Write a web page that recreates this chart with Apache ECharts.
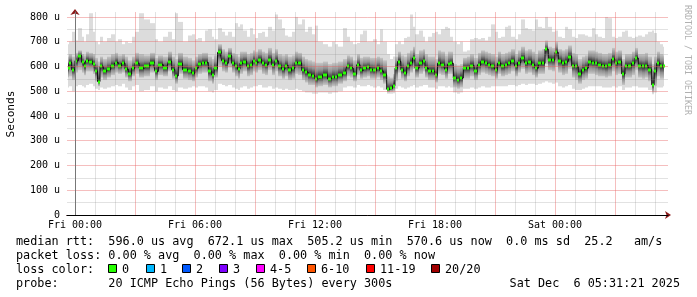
<!DOCTYPE html>
<html><head><meta charset="utf-8">
<script src="https://cdn.jsdelivr.net/npm/echarts@6/dist/echarts.min.js"></script>
<style>html,body{margin:0;padding:0;background:#fff}#c{width:697px;height:297px}</style>
</head><body><div id="c"></div>
<script>
// time of each sample, minutes relative to Fri 00:00
const times = [-20,-15,-5,5,15,25,30,35,50,55,65,70,80,90,100,115,125,135,145,155,165,175,185,200,215,235,245,255,275,285,295,305,315,330,345,355,365,375,385,395,405,415,420,435,445,455,465,475,485,490,500,510,520,530,535,545,555,565,575,585,595,605,615,625,635,645,655,665,675,685,695,705,715,725,735,750,765,775,785,795,810,820,830,840,850,860,870,880,890,900,910,920,930,940,950,955,965,970,985,990,1000,1010,1015,1025,1040,1045,1055,1065,1075,1085,1090,1105,1115,1120,1130,1140,1150,1160,1170,1180,1190,1205,1210,1225,1235,1240,1255,1265,1270,1285,1295,1300,1315,1325,1330,1345,1355,1365,1375,1385,1395,1405,1415,1425,1435,1445,1455,1465,1475,1485,1495,1505,1515,1525,1535,1545,1555,1565,1575,1585,1595,1605,1615,1625,1635,1645,1655,1665,1675,1685,1695,1705,1715,1725,1735,1740,1750,1760,1765];
// median rtt (microseconds)
const median = [593,616,587,623,643,617,600,624,620,609,580,539,600,582,589,603,616,603,613,589,570,593,613,593,600,616,580,607,593,620,587,562,611,587,582,573,593,611,616,616,580,566,593,657,623,613,643,613,600,589,613,620,600,607,623,616,627,613,607,627,607,623,600,589,603,584,593,616,613,584,576,566,562,549,557,566,549,557,556,566,573,600,593,570,607,584,593,596,587,584,593,582,566,508,512,522,593,620,587,573,600,616,634,593,613,623,593,580,580,566,613,607,587,609,613,553,546,553,593,593,603,580,607,620,613,607,600,587,613,600,607,613,623,600,616,634,613,620,607,593,613,613,670,627,627,657,623,613,620,640,603,600,570,587,593,620,616,613,607,603,600,607,630,613,620,570,603,603,613,634,603,600,603,587,526,580,613,600,600];
// outer smoke (slowest / fastest ping)
const smokeMax = [690,700,740,705,755,720,700,730,815,740,700,690,720,700,715,730,700,710,690,700,695,720,740,815,790,775,710,700,720,740,710,815,780,700,725,730,710,715,700,745,750,720,710,755,740,725,740,720,775,760,770,745,720,755,730,715,735,740,720,760,745,810,790,755,725,720,740,800,770,790,740,760,730,765,700,690,680,700,690,680,755,720,700,690,695,730,745,700,700,710,690,750,700,650,630,640,690,700,690,715,720,810,760,730,745,720,700,720,735,740,730,750,760,755,720,700,690,700,660,665,710,715,710,715,705,720,770,740,715,720,760,765,720,710,730,790,755,750,745,790,760,755,800,760,740,745,720,715,760,750,720,715,730,730,725,720,755,730,720,715,800,795,720,715,720,740,745,720,715,720,725,720,730,740,745,735,700,690,680];
const smokeMin = [515,520,500,520,525,520,515,525,530,520,510,505,515,510,515,520,525,520,530,515,505,520,525,500,505,520,500,515,510,520,505,500,515,510,515,520,515,520,520,515,500,495,505,530,525,520,525,515,510,505,515,520,510,515,520,520,525,515,515,520,510,515,510,505,510,505,505,510,505,500,495,495,490,490,495,495,490,495,495,500,515,520,520,515,525,520,520,525,520,515,520,515,505,490,490,492,510,520,515,510,515,520,525,515,520,525,525,515,515,510,520,520,515,520,515,495,490,495,510,510,515,510,515,520,515,515,520,520,520,520,520,525,525,520,525,530,525,530,530,525,530,535,540,535,530,535,520,515,520,525,510,505,505,510,515,520,520,520,520,515,515,515,520,515,520,505,515,515,520,520,515,515,515,505,488,495,515,515,520];
// dense inner smoke
const smokeHi = [640,650,640,655,665,650,645,660,655,650,635,620,640,630,640,650,655,645,650,640,625,640,655,650,645,655,635,645,640,660,640,630,655,640,635,625,640,650,655,655,640,630,645,690,670,660,675,655,650,640,660,660,650,655,665,660,670,660,655,675,655,670,650,645,650,640,645,660,655,640,630,625,620,615,615,620,610,615,615,620,630,645,640,625,650,635,640,640,635,635,640,635,625,560,555,570,640,660,645,640,655,665,680,650,665,670,650,640,640,630,665,660,645,660,660,610,605,610,635,640,650,635,655,665,660,655,650,640,660,650,655,660,670,650,665,680,665,670,660,650,665,670,705,680,675,700,670,665,670,685,655,650,630,640,645,665,665,660,655,650,650,655,675,660,665,630,650,650,660,675,650,650,655,640,610,640,660,650,645];
const smokeLo = [555,560,545,575,585,575,565,580,580,570,540,520,555,545,555,565,575,570,575,555,540,560,570,555,560,575,545,565,560,580,550,530,570,550,545,540,555,570,575,575,540,530,555,600,580,575,595,575,560,550,570,580,560,565,580,575,585,570,565,585,565,580,560,550,560,545,550,570,565,545,535,525,525,515,520,525,515,520,520,530,540,560,555,540,565,550,555,560,550,550,555,545,530,495,498,500,540,575,550,540,560,575,590,555,570,580,555,545,545,535,570,565,550,570,570,515,510,515,550,550,560,545,565,575,570,565,560,550,570,560,565,570,580,560,575,590,570,575,565,555,570,570,610,585,580,600,575,565,570,590,555,545,530,545,550,570,570,565,560,560,555,560,580,565,570,525,555,555,565,585,555,550,555,540,495,520,560,550,550];

// axis tick labels
const xTickValues = [0, 360, 720, 1080, 1440];
const xTickLabels = ['Fri 00:00', 'Fri 06:00', 'Fri 12:00', 'Fri 18:00', 'Sat 00:00'];
const yTickValues = [0, 100, 200, 300, 400, 500, 600, 700, 800];
const yTickLabels = ['0', '100 u', '200 u', '300 u', '400 u', '500 u', '600 u', '700 u', '800 u'];

// legend texts
const statsLine = 'median rtt:  596.0 us avg  672.1 us max  505.2 us min  570.6 us now  0.0 ms sd  25.2   am/s';
const lossLine = 'packet loss: 0.00 % avg  0.00 % max  0.00 % min  0.00 % now';
const lossColorTitle = 'loss color:';
const lossLabels = ['0', '1', '2', '3', '4-5', '6-10', '11-19', '20/20'];
const lossColors = ['#26ff00', '#00b8ff', '#0059ff', '#7e00ff', '#ff00ff', '#ff5500', '#ff0000', '#a00000'];
const probeLine = 'probe:       20 ICMP Echo Pings (56 Bytes) every 300s';
const dateLine = 'Sat Dec  6 05:31:21 2025';
const yName = 'Seconds';
const watermark = 'RRDTOOL / TOBI OETIKER';

// ---------- layout ----------
const MONO = "'DejaVu Sans Mono', monospace";
const lossBoxX = [108, 146, 182, 219, 256, 307, 366, 431];
const lossTextX = [122, 160, 196, 233, 270, 321, 380, 445];

const n = Math.min(times.length, median.length, smokeMax.length, smokeMin.length, smokeHi.length, smokeLo.length);
const data = [];
for (let i = 0; i < n; i++) {
  const l = i === 0 ? times[0] - (times[1] - times[0]) / 2 : (times[i - 1] + times[i]) / 2;
  const r = i === n - 1 ? times[i] + (times[i] - times[i - 1]) / 2 : (times[i] + times[i + 1]) / 2;
  data.push([times[i], smokeMax[i], smokeHi[i], smokeLo[i], smokeMin[i], median[i], l, r]);
}

function smokeItem(params, api) {
  const l = api.value(6), r = api.value(7);
  const a = api.coord([l, api.value(1)]);
  const b = api.coord([r, api.value(4)]);
  const hi = api.coord([l, api.value(2)]);
  const lo = api.coord([r, api.value(3)]);
  const md = api.coord([l, api.value(5)]);
  const x0 = Math.round(a[0]), x1 = Math.round(b[0]);
  let f = (md[1] - hi[1]) / (lo[1] - hi[1]);
  f = Math.max(0.2, Math.min(0.8, f));
  return {
    type: 'group',
    children: [
      { type: 'rect', shape: { x: x0, y: a[1], width: x1 - x0, height: b[1] - a[1] }, style: { fill: '#dcdcdc' } },
      { type: 'rect', shape: { x: x0, y: hi[1], width: x1 - x0, height: lo[1] - hi[1] },
        style: { fill: new echarts.graphic.LinearGradient(0, 0, 0, 1, [
          { offset: 0, color: '#c6c6c6' }, { offset: f * 0.5, color: '#909090' },
          { offset: f, color: '#262626' },
          { offset: f + (1 - f) * 0.5, color: '#909090' }, { offset: 1, color: '#c6c6c6' }]) } }
    ]
  };
}
function medianItem(params, api) {
  const l = api.value(6), r = api.value(7);
  const a = api.coord([l, api.value(5)]);
  const b = api.coord([r, api.value(5)]);
  const x0 = Math.round(a[0]), x1 = Math.round(b[0]);
  return { type: 'rect', shape: { x: x0, y: Math.round(a[1]) - 1.5, width: Math.max(2, x1 - x0 - 1), height: 3 }, style: { fill: lossColors[0] } };
}

const RED = 'rgba(230,100,100,0.42)', GREY = 'rgba(140,140,140,0.25)';
const X_MIN = -24, X_MAX = 1779, Y_MAX = 820;
// vertical grid: every hour (grey), every 3 hours (red)
const hourLines = [], threeHourLines = [];
for (let m = 0; m <= 1740; m += 60) (m % 180 === 0 ? threeHourLines : hourLines).push({ xAxis: m });

const chart = echarts.init(document.getElementById('c'), null, { renderer: 'canvas' });
chart.setOption({
  animation: false,
  backgroundColor: '#ffffff',
  grid: { left: 67, right: 29, top: 12, bottom: 82, containLabel: false },
  xAxis: [
    { type: 'value', min: X_MIN, max: X_MAX, interval: 6, z: 11,
      axisLine: { show: true, lineStyle: { color: '#000', width: 1 } },
      axisTick: { show: false },
      axisLabel: { show: true, margin: 5, fontFamily: MONO, fontSize: 10, color: '#000',
        showMinLabel: false, showMaxLabel: false,
        formatter: v => { const k = xTickValues.indexOf(Math.round(v)); return (k >= 0 && Math.abs(v - Math.round(v)) < 1e-6) ? xTickLabels[k] : ''; } },
      splitLine: { show: false } },
    { type: 'value', min: X_MIN, max: X_MAX, z: 10, position: 'bottom',
      axisLine: { show: true, symbol: ['none', 'arrow'], symbolSize: [6, 6], symbolOffset: [0, 3], lineStyle: { color: '#8b1a1a', width: 1 } },
      axisTick: { show: false }, axisLabel: { show: false }, splitLine: { show: false } }
  ],
  yAxis: [
    { type: 'value', min: 0, max: Y_MAX, interval: 50, z: 11,
      axisLine: { show: true, lineStyle: { color: '#777', width: 1 } },
      axisTick: { show: false },
      axisLabel: { show: true, margin: 7, fontFamily: MONO, fontSize: 10, color: '#000',
        formatter: v => { const k = yTickValues.indexOf(Math.round(v)); return k >= 0 ? yTickLabels[k] : ''; } },
      splitLine: { show: false } },
    { type: 'value', min: 0, max: Y_MAX, z: 10, position: 'left',
      axisLine: { show: true, symbol: ['none', 'arrow'], symbolSize: [7, 6], symbolOffset: [0, 3], lineStyle: { color: '#8b1a1a', width: 1 } },
      axisTick: { show: false }, axisLabel: { show: false }, splitLine: { show: false } }
  ],
  series: [
    { type: 'custom', name: 'smoke', xAxisIndex: 0, yAxisIndex: 0, z: 2, clip: true,
      renderItem: smokeItem, encode: { x: 0, y: [1, 4] }, data: data, silent: true },
    { type: 'line', name: 'median line', xAxisIndex: 0, yAxisIndex: 0, z: 3, step: 'middle', symbol: 'none',
      lineStyle: { color: '#111', width: 1 }, data: times.slice(0, n).map((t, i) => [t, median[i]]), silent: true },
    { type: 'custom', name: 'median', xAxisIndex: 0, yAxisIndex: 0, z: 4, clip: true,
      renderItem: medianItem, encode: { x: 0, y: 5 }, data: data, silent: true },
    { type: 'line', name: 'grid-minor', xAxisIndex: 0, yAxisIndex: 0, z: 5, data: [], silent: true,
      markLine: { silent: true, symbol: ['none', 'none'], label: { show: false }, animation: false,
        lineStyle: { color: GREY, width: 1, type: 'solid', opacity: 1 },
        data: hourLines.concat([50, 150, 250, 350, 450, 550, 650, 750].map(v => ({ yAxis: v }))) } },
    { type: 'line', name: 'grid-major', xAxisIndex: 0, yAxisIndex: 0, z: 6, data: [], silent: true,
      markLine: { silent: true, symbol: ['none', 'none'], label: { show: false }, animation: false,
        lineStyle: { color: RED, width: 1, type: 'solid', opacity: 1 },
        data: threeHourLines.concat(yTickValues.filter(v => v > 0).map(v => ({ yAxis: v }))) } }
  ],
  graphic: (function () {
    const g = [];
    const txt = (x, y, s, extra) => Object.assign({ type: 'text', x: x, y: y, silent: true,
      style: Object.assign({ text: s, fontFamily: MONO, fontSize: 11.8, fill: '#000', verticalAlign: 'middle' }, extra || {}) });
    g.push(txt(16, 241.5, statsLine));
    g.push(txt(16, 255.5, lossLine));
    g.push(txt(16, 269.5, lossColorTitle));
    for (let i = 0; i < lossLabels.length; i++) {
      g.push({ type: 'rect', silent: true, shape: { x: lossBoxX[i] + 0.5, y: 264.5, width: 8, height: 8 },
        style: { fill: lossColors[i], stroke: '#000', lineWidth: 1 } });
      g.push(txt(lossTextX[i], 269.5, lossLabels[i]));
    }
    g.push(txt(16, 283.5, probeLine));
    g.push(txt(680, 283.5, dateLine, { align: 'right' }));
    g.push({ type: 'text', x: 11, y: 114, rotation: Math.PI / 2, silent: true,
      style: { text: yName, fontFamily: MONO, fontSize: 11.2, fill: '#000', align: 'center', verticalAlign: 'middle' } });
    g.push({ type: 'text', x: 687, y: 60, rotation: -Math.PI / 2, silent: true,
      style: { text: watermark, fontFamily: MONO, fontSize: 8.3, fill: '#b0b0b0', align: 'center', verticalAlign: 'middle' } });
    return g;
  })()
});
</script></body></html>
